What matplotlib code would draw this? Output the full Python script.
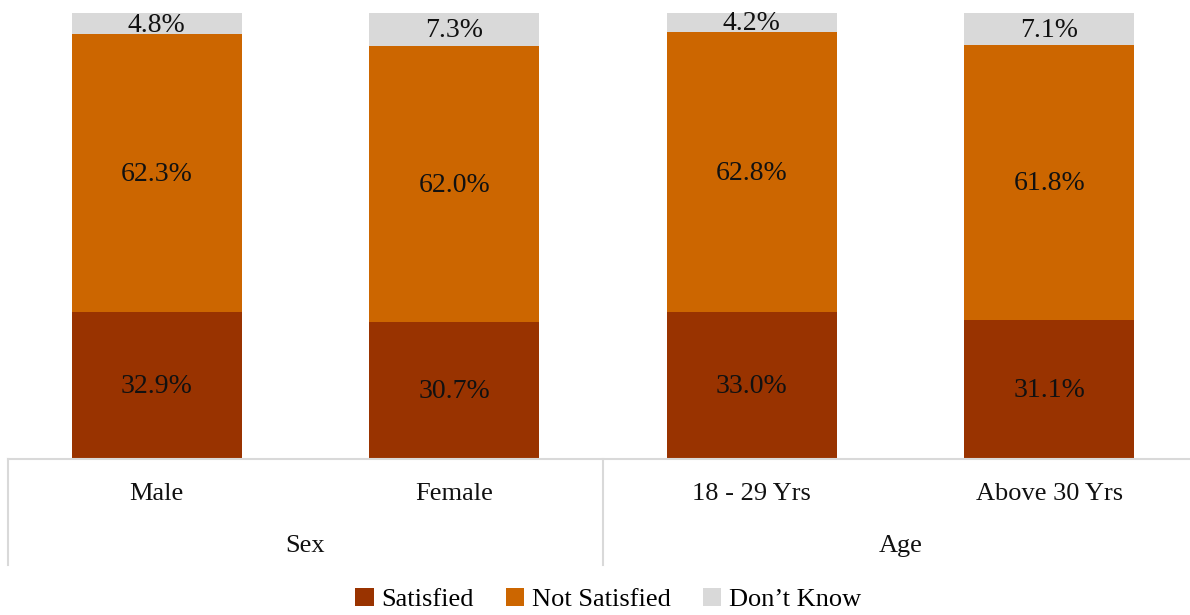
import matplotlib
matplotlib.use("Agg")
import matplotlib.pyplot as plt
from matplotlib.patches import Patch
from matplotlib.lines import Line2D

categories = ["Male", "Female", "18 - 29 Yrs", "Above 30 Yrs"]
groups = ["Sex", "Age"]
satisfied = [32.9, 30.7, 33.0, 31.1]
not_satisfied = [62.3, 62.0, 62.8, 61.8]
dont_know = [4.8, 7.3, 4.2, 7.1]
series_names = ["Satisfied", "Not Satisfied", "Don\u2019t Know"]

colors = ["#993300", "#CC6600", "#D9D9D9"]
grid_color = "#D9D9D9"
serif = ["Liberation Serif", "DejaVu Serif"]

plt.rcParams["font.family"] = serif

fig = plt.figure(figsize=(11.9, 6.15), dpi=100)
ax = fig.add_axes([8 / 1190, 1 - 459 / 615, 1.0, 446 / 615])

x = list(range(len(categories)))
width = 0.572
bottom = [0.0] * len(x)
for vals, col in zip([satisfied, not_satisfied, dont_know], colors):
    ax.bar(x, vals, width, bottom=bottom, color=col, edgecolor="none", zorder=2)
    for xi, b, v in zip(x, bottom, vals):
        ax.text(xi, b + v / 2 - 0.3, f"{v:.1f}%", ha="center", va="center",
                fontsize=20, color="#111111", family=serif, zorder=3)
    bottom = [b + v for b, v in zip(bottom, vals)]

ax.set_xlim(-0.5, 3.5)
ax.set_ylim(0, 100)
for s in ["top", "right", "left"]:
    ax.spines[s].set_visible(False)
ax.spines["bottom"].set_color(grid_color)
ax.spines["bottom"].set_linewidth(1.5)
ax.set_xticks([])
ax.set_yticks([])

# two-level category axis
trans = ax.get_xaxis_transform()
for xi, lab in zip(x, categories):
    ax.text(xi, -0.078, lab, transform=trans, ha="center", va="center",
            fontsize=19, color="#111111", family=serif)
for gi, g in enumerate(groups):
    ax.text(gi * 2 + 0.5, -0.196, g, transform=trans, ha="center",
            va="center", fontsize=19, color="#111111", family=serif)
for xv in [-0.5, 1.5, 3.5]:
    ax.add_line(Line2D([xv, xv], [0, -0.238], transform=trans,
                       color=grid_color, linewidth=1.5, clip_on=False))

handles = [Patch(facecolor=c, edgecolor="none") for c in colors]
fig.legend(handles, series_names, loc="center", bbox_to_anchor=(0.511, 0.025),
           ncol=3, frameon=False, prop={"family": serif, "size": 19},
           handlelength=0.7, handleheight=0.7, handletextpad=0.3,
           columnspacing=1.2)

fig.savefig("out.png", dpi=100)
